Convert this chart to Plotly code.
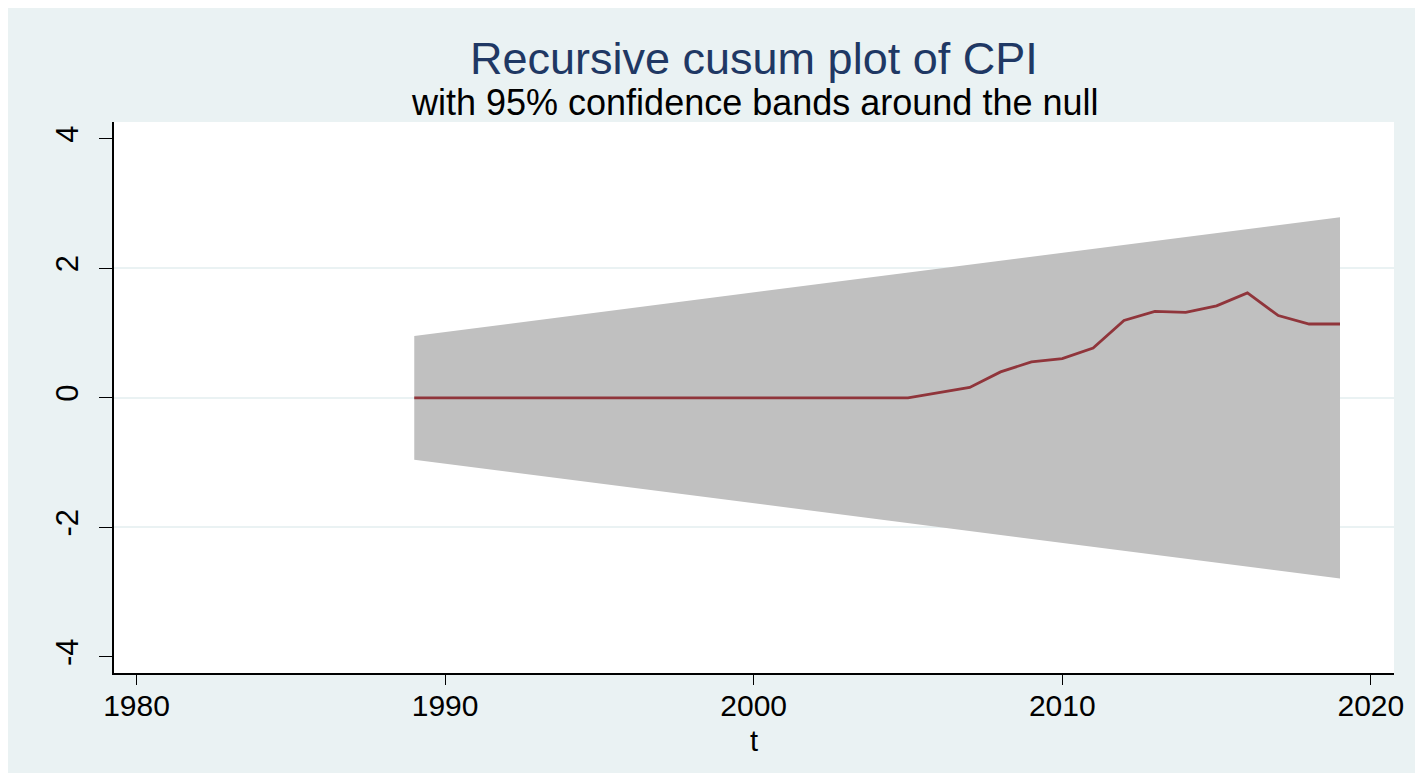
import plotly.graph_objects as go

# ---- data ----
years = list(range(1989, 2020))
cusum = [0, 0, 0, 0, 0, 0, 0, 0, 0, 0, 0, 0, 0, 0, 0, 0, 0,   # 1989-2005
         0.08, 0.16, 0.40, 0.555, 0.605, 0.77, 1.196, 1.336, 1.32,
         1.42, 1.62, 1.27, 1.14, 1.14]                          # 2006-2019
band_years = [1989, 2019]
band_upper = [0.955, 2.79]
band_lower = [-0.955, -2.79]

x_ticks = [1980, 1990, 2000, 2010, 2020]
y_ticks = [-4, -2, 0, 2, 4]
y_ticktext = ["-4", "-2", "0", "2", "4"]
grid_ticks = [-2, 0, 2]

title_text = "Recursive cusum plot of CPI"
subtitle_text = "with 95% confidence bands around the null"
x_title = "t"

FONT = "Liberation Sans"
BG = "#EAF2F3"

W, H = 1423, 773
ML, MR, MT, MB = 106, 37, 114, 108
PW, PH = W - ML - MR, H - MT - MB


def px_y(p):
    return (H - MB - p) / PH


fig = go.Figure()

fig.add_trace(go.Scatter(
    x=band_years + band_years[::-1],
    y=band_upper + band_lower[::-1],
    fill="toself", fillcolor="#C0C0C0",
    line=dict(width=0, color="#C0C0C0"),
    mode="lines", hoverinfo="skip", showlegend=False,
))

fig.add_trace(go.Scatter(
    x=years, y=cusum, mode="lines",
    line=dict(color="#90353B", width=2.8),
    showlegend=False,
))

# invisible trace on yaxis2 so the overlay axis (grid at -2, 0, 2) is rendered
fig.add_trace(go.Scatter(x=[None], y=[None], yaxis="y2", showlegend=False, hoverinfo="skip"))

fig.update_layout(
    width=W, height=H,
    margin=dict(l=ML, r=MR, t=MT, b=MB),
    paper_bgcolor=BG, plot_bgcolor="white",
    font=dict(family=FONT, color="black"),
    showlegend=False,
    xaxis=dict(
        range=[1979.27, 2020.75], tickmode="array", tickvals=x_ticks,
        ticks="outside", ticklen=10, tickwidth=1.3, tickcolor="black",
        showline=True, linecolor="black", linewidth=1.5,
        showgrid=False, zeroline=False, ticklabelstandoff=-5,
        tickfont=dict(size=30, family=FONT, color="black"),
    ),
    yaxis=dict(
        range=[-4.25, 4.26], tickmode="array", tickvals=y_ticks, ticktext=y_ticktext,
        tickangle=-90, ticks="outside", ticklen=13, tickwidth=1.3, tickcolor="black",
        showline=True, linecolor="black", linewidth=1.5,
        showgrid=False, zeroline=False, ticklabelstandoff=9,
        tickfont=dict(size=31, family=FONT, color="black"),
    ),
    yaxis2=dict(
        range=[-4.25, 4.26], overlaying="y", side="left",
        tickmode="array", tickvals=grid_ticks, showticklabels=False, ticks="",
        showgrid=True, gridcolor=BG, gridwidth=1.5, zeroline=False, showline=False,
    ),
    annotations=[
        dict(text=title_text, xref="paper", yref="paper", x=0.5, y=px_y(50),
             xanchor="center", yanchor="middle", showarrow=False,
             font=dict(size=45, family=FONT, color="#1F3864")),
        dict(text=subtitle_text, xref="paper", yref="paper", x=0.5, y=px_y(94),
             xanchor="center", yanchor="middle", showarrow=False,
             font=dict(size=36, family=FONT, color="black")),
        dict(text=x_title, xref="paper", yref="paper", x=0.5, y=px_y(733),
             xanchor="center", yanchor="middle", showarrow=False,
             font=dict(size=29, family=FONT, color="black")),
    ],
)

fig.write_html("out.html")
